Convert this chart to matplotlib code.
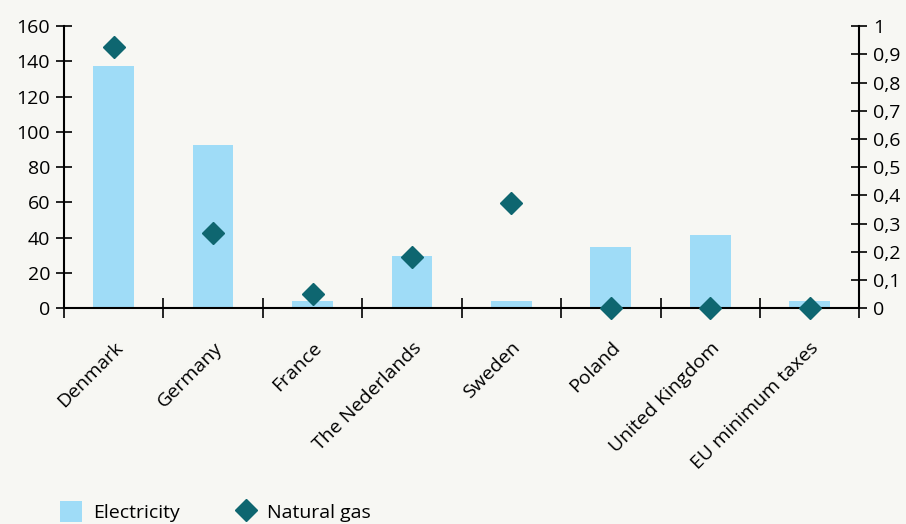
import numpy as np
import matplotlib.pyplot as plt
from matplotlib.ticker import FuncFormatter
from matplotlib.transforms import ScaledTranslation

plt.rcParams['font.family'] = ['Open Sans', 'DejaVu Sans']

countries = ['Denmark', 'Germany', 'France', 'The Nederlands', 'Sweden',
             'Poland', 'United Kingdom', 'EU minimum taxes']
electricity = [137.5, 92.5, 4, 29.5, 4, 34.5, 41.5, 4]
natural_gas = [0.925, 0.265, 0.05, 0.18, 0.372, 0, 0, 0]

bg = '#f7f7f3'
bar_col = '#9fdcf7'
gas_col = '#0e6670'
fs = 14

fig = plt.figure(figsize=(9.06, 5.24), dpi=100, facecolor=bg)
ax = fig.add_axes([0.0706, 0.412, 0.878, 0.538])
ax.set_facecolor(bg)
x = np.arange(len(countries))

bars = ax.bar(x, electricity, width=0.41, color=bar_col, zorder=2)
ax.set_xlim(-0.5, len(countries) - 0.5)
ax.set_ylim(0, 160)
ax.set_yticks(range(0, 161, 20))

ax.set_xticks(x)
ax.set_xticklabels(countries, rotation=45, ha='right', rotation_mode='anchor')
shift = ScaledTranslation(11 / 100, 0, fig.dpi_scale_trans)
for lab in ax.get_xticklabels():
    lab.set_transform(lab.get_transform() + shift)
ax.set_xticks(np.arange(-0.5, len(countries)), minor=True)
ax.tick_params(axis='x', which='major', length=0, pad=22, labelsize=fs)
ax.tick_params(axis='x', which='minor', direction='inout', length=14, width=1.2)
ax.tick_params(axis='y', direction='inout', length=12, width=1.2, labelsize=fs, pad=4)

for s in ['top', 'right']:
    ax.spines[s].set_visible(False)
for s in ['left', 'bottom']:
    ax.spines[s].set_linewidth(1.5)

ax2 = ax.twinx()
ax2.set_ylim(0, 1)
ax2.set_yticks(np.arange(0, 1.01, 0.1))
ax2.yaxis.set_major_formatter(FuncFormatter(
    lambda v, p: '0' if abs(v) < 1e-9 else ('1' if abs(v - 1) < 1e-9 else f'{v:.1f}'.replace('.', ','))))
ax2.tick_params(axis='y', direction='inout', length=12, width=1.2, labelsize=fs, pad=4)
for s in ['top', 'left', 'bottom']:
    ax2.spines[s].set_visible(False)
ax2.spines['right'].set_linewidth(1.5)
pts, = ax2.plot(x, natural_gas, linestyle='none', marker='D', markersize=11,
                color=gas_col, clip_on=False, zorder=3)

fig.legend([bars, pts], ['Electricity', 'Natural gas'], loc='lower left',
           bbox_to_anchor=(0.047, -0.03), ncol=2, frameon=False, fontsize=fs,
           handlelength=1.15, handleheight=1.25, columnspacing=2.8, handletextpad=0.55)

fig.savefig('out.png', dpi=100, facecolor=bg)
